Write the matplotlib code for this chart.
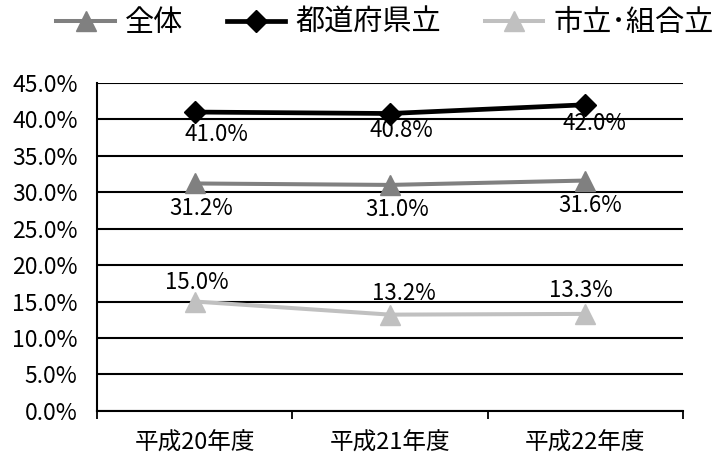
import matplotlib
matplotlib.use("Agg")
import matplotlib.pyplot as plt
from matplotlib.ticker import FuncFormatter, FixedLocator

plt.rcParams['font.family'] = ['Noto Sans CJK JP', 'DejaVu Sans']

years = ["平成20年度", "平成21年度", "平成22年度"]
series_names = ["全体", "都道府県立", "市立･組合立"]
zentai = [31.2, 31.0, 31.6]
todofuken = [41.0, 40.8, 42.0]
shiritsu = [15.0, 13.2, 13.3]

fig = plt.figure(figsize=(7.13, 4.58), dpi=100)
ax = fig.add_axes([0.136, 0.103, 0.822, 0.716])

x = list(range(len(years)))

# per-point label offsets (points) so the labels clear the lines
zentai_off = [(5, -18), (5, -17.5), (3.5, -18)]
todofuken_off = [(16, -16), (8, -12.5), (6.5, -13.5)]
shiritsu_off = [(1.5, 13.5), (10, 15.5), (-3.5, 16.5)]

styles = [
    (zentai, "#808080", "^", 15, 2.9, zentai_off),
    (todofuken, "#000000", "D", 11, 3.4, todofuken_off),
    (shiritsu, "#c0c0c0", "^", 15, 2.9, shiritsu_off),
]

handles = []
for (vals, col, mk, ms, lw, offs), name in zip(styles, series_names):
    h, = ax.plot(x, vals, color=col, marker=mk, markersize=ms, linewidth=lw,
                 label=name, zorder=3)
    handles.append(h)
    for xi, v, off in zip(x, vals, offs):
        ax.annotate(f"{v:.1f}%", (xi, v), xytext=off, textcoords="offset points",
                    ha="center", va="center", fontsize=16, color="black", zorder=4)

ax.set_xlim(-0.5, 2.5)
ax.set_ylim(0, 45)
ax.yaxis.set_major_locator(FixedLocator([i * 5 for i in range(10)]))
ax.yaxis.set_major_formatter(FuncFormatter(lambda v, p: f"{v:.1f}%"))
ax.grid(axis="y", color="black", linewidth=1.5)
ax.set_axisbelow(True)

ax.set_xticks(x)
ax.set_xticklabels(years, fontsize=17)
ax.set_xticks([-0.5, 0.5, 1.5, 2.5], minor=True)
ax.tick_params(axis="x", which="major", length=0, pad=15)
ax.tick_params(axis="x", which="minor", length=6, width=1.3, direction="out")
ax.tick_params(axis="y", length=0, pad=14, labelsize=16.5)

for s in ["top", "right"]:
    ax.spines[s].set_visible(False)
for s in ["left", "bottom"]:
    ax.spines[s].set_color("black")
    ax.spines[s].set_linewidth(1.5)

fig.legend(handles=handles, loc="center", bbox_to_anchor=(0.54, 0.95),
           ncol=3, frameon=False, fontsize=21, handlelength=2.0,
           handletextpad=0.35, columnspacing=1.5, borderaxespad=0)

fig.savefig("out.png", dpi=100)
